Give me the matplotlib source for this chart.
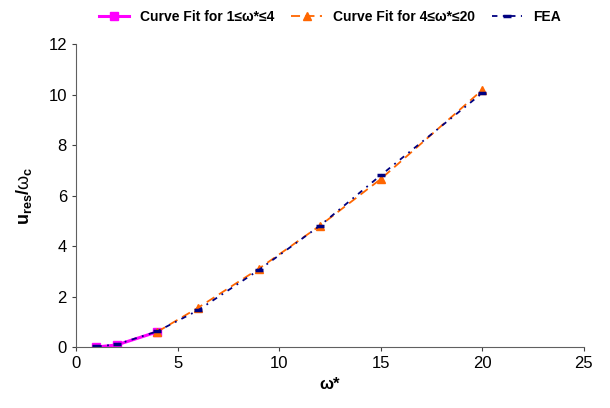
import numpy as np
import matplotlib.pyplot as plt

plt.rcParams['font.family'] = ['Liberation Sans', 'DejaVu Sans']
plt.rcParams['mathtext.fontset'] = 'custom'
plt.rcParams['mathtext.rm'] = 'Liberation Sans'
plt.rcParams['mathtext.bf'] = 'Liberation Sans:bold'
plt.rcParams['mathtext.it'] = 'Liberation Sans:italic'

# Curve fit for 1 <= w* <= 4
fit1_x = [1, 2, 4]
fit1_y = [0.0, 0.08, 0.60]

# Curve fit for 4 <= w* <= 20
fit2_x = [4, 6, 9, 12, 15, 20]
fit2_y = [0.60, 1.55, 3.10, 4.80, 6.65, 10.18]

# FEA results
fea_x = [1, 2, 4, 6, 9, 12, 15, 20]
fea_y = [0.02, 0.10, 0.62, 1.45, 3.05, 4.80, 6.80, 10.06]

fig = plt.figure(figsize=(6.1, 4.08), dpi=100)
ax = fig.add_axes([0.1246, 0.1495, 0.8324, 0.7425])

ax.plot(fit1_x, fit1_y, color='#FF00FF', lw=2.2, marker='s', ms=5.5,
        label='Curve Fit for 1\u2264\u03c9*\u22644')
ax.plot(fit2_x, fit2_y, color='#FF6600', lw=1.3, ls=(0, (5, 3)), marker='^', ms=6,
        label='Curve Fit for 4\u2264\u03c9*\u226420')
ax.plot(fea_x, fea_y, color='#000080', lw=1.3, ls=(0, (3, 3, 1, 3)), marker='_',
        ms=6, mew=2.5, label='FEA')

ax.set_xlim(0, 25)
ax.set_ylim(0, 12)
ax.set_xticks(np.arange(0, 26, 5))
ax.set_yticks(np.arange(0, 13, 2))
ax.tick_params(labelsize=12, direction='out', length=3, color='#404040')
for s in ['top', 'right']:
    ax.spines[s].set_visible(False)
for s in ['left', 'bottom']:
    ax.spines[s].set_color('#606060')

ax.set_xlabel('\u03c9*', fontsize=12, fontweight='bold')
ax.set_ylabel(r'$\mathbf{u_{res}/}\mathrm{\omega}_\mathbf{c}$', fontsize=13, labelpad=10)

ax.legend(loc='center', bbox_to_anchor=(0.5, 1.089), ncol=3, frameon=False,
          prop={'weight': 'bold', 'size': 10}, handlelength=2.2, columnspacing=1.2,
          handletextpad=0.8, borderpad=0.2)

fig.savefig('out.png', dpi=100)
